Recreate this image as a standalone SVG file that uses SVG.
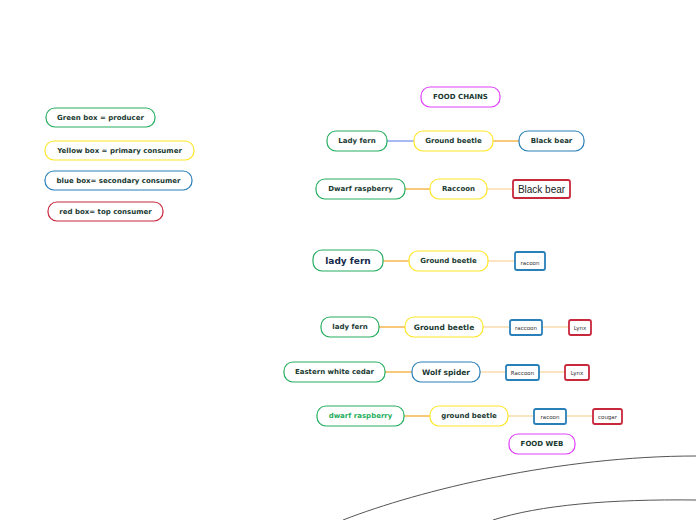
<svg xmlns="http://www.w3.org/2000/svg" width="696" height="520" viewBox="0 0 696 520">
<style>
.n{fill:#fff;stroke-width:1.2}
.g{stroke:#27ae60}.y{stroke:#ffe629}.b{stroke:#2980b9}.r{stroke:#c8283c}.m{stroke:#e040fb}
.sq{stroke-width:1.8}
.t{font-family:"DejaVu Sans",Verdana,sans-serif;font-weight:bold;font-size:7px;fill:#1a3a32;text-anchor:middle;dominant-baseline:central}
.s{font-family:"DejaVu Sans",Verdana,sans-serif;font-size:5.5px;fill:#333;text-anchor:middle;dominant-baseline:central}
.c{fill:none;stroke:#f5a623;stroke-width:1.2}
.cl{fill:none;stroke:#fbd29a;stroke-width:1.2}
</style>
<rect width="696" height="520" fill="#fff"/>
<g id="connectors">
<line x1="387" y1="141" x2="414" y2="141" style="fill:none;stroke:#6d8cf0;stroke-width:1.2"/>
<line class="c" x1="493" y1="141" x2="519" y2="141"/>
<line class="c" x1="405" y1="189" x2="430" y2="189"/>
<line class="cl" x1="487" y1="189" x2="513" y2="189"/>
<line class="c" x1="383" y1="261" x2="409" y2="261"/>
<line class="cl" x1="488" y1="261" x2="515" y2="261"/>
<line class="c" x1="379" y1="327" x2="405" y2="327"/>
<line class="cl" x1="483" y1="327" x2="510" y2="327"/>
<line class="cl" x1="542" y1="327" x2="569" y2="327"/>
<line class="c" x1="385" y1="372" x2="412" y2="372"/>
<line class="cl" x1="480" y1="372" x2="506" y2="372"/>
<line class="cl" x1="539" y1="372" x2="565" y2="372"/>
<line class="c" x1="404" y1="416" x2="430" y2="416"/>
<line class="cl" x1="508" y1="416" x2="534" y2="416"/>
<line class="cl" x1="566" y1="416" x2="593" y2="416"/>
<path d="M343,520 C420,490 560,456 696,456" fill="none" stroke="#555" stroke-width="1"/>
<path d="M493,520 C540,505 610,499 696,500" fill="none" stroke="#555" stroke-width="1"/>
</g>
<g id="legend-green"><rect class="n g" x="46" y="108" width="109" height="19" rx="9"/><text class="t" x="100.5" y="117.5">Green box = producer</text></g>
<g id="legend-yellow"><rect class="n y" x="45" y="141" width="149" height="19" rx="9"/><text class="t" x="119.5" y="150.5">Yellow box = primary consumer</text></g>
<g id="legend-blue"><rect class="n b" x="45" y="171" width="147" height="19" rx="9"/><text class="t" x="118.5" y="180.5">blue box= secondary consumer</text></g>
<g id="legend-red"><rect class="n r" x="48" y="202" width="115" height="19" rx="9"/><text class="t" x="105.5" y="211.5">red box= top consumer</text></g>
<g id="food-chains"><rect class="n m" x="421" y="87" width="79" height="20" rx="9"/><text class="t" x="460.5" y="97">FOOD CHAINS</text></g>
<g id="r1-fern"><rect class="n g" x="327" y="131" width="60" height="20" rx="9"/><text class="t" x="357" y="141">Lady fern</text></g>
<g id="r1-beetle"><rect class="n y" x="414" y="131" width="79" height="20" rx="9"/><text class="t" x="453.5" y="141">Ground beetle</text></g>
<g id="r1-bear"><rect class="n b" x="519" y="131" width="65" height="20" rx="9"/><text class="t" x="551.5" y="141">Black bear</text></g>
<g id="r2-rasp"><rect class="n g" x="316" y="179" width="89" height="20" rx="9"/><text class="t" x="360.5" y="189">Dwarf raspberry</text></g>
<g id="r2-raccoon"><rect class="n y" x="430" y="179" width="57" height="20" rx="9"/><text class="t" x="458.5" y="189">Raccoon</text></g>
<g id="r2-bear"><rect class="n r sq" x="513" y="180" width="57" height="18" rx="2"/><text x="541.5" y="189" style="font-family:'Liberation Sans',Arial,sans-serif;font-size:10px;fill:#222;text-anchor:middle;dominant-baseline:central">Black bear</text></g>
<g id="r3-fern"><rect class="n g" x="313" y="250" width="70" height="21" rx="9"/><text class="t" x="348" y="260.5" style="font-size:9px;fill:#13294b">lady fern</text></g>
<g id="r3-beetle"><rect class="n y" x="409" y="251" width="79" height="20" rx="9"/><text class="t" x="448.5" y="261">Ground beetle</text></g>
<g id="r3-racoon"><rect class="n b sq" x="515" y="252" width="30" height="18" rx="2"/><text class="s" x="530" y="262.5">racoon</text></g>
<g id="r4-fern"><rect class="n g" x="321" y="317" width="58" height="20" rx="9"/><text class="t" x="350" y="327">lady fern</text></g>
<g id="r4-beetle"><rect class="n y" x="405" y="317" width="78" height="20" rx="9"/><text class="t" x="444" y="327" style="font-size:7.5px">Ground beetle</text></g>
<g id="r4-raccoon"><rect class="n b sq" x="510" y="320" width="32" height="15" rx="2"/><text class="s" x="526" y="327.5">raccoon</text></g>
<g id="r4-lynx"><rect class="n r sq" x="569" y="320" width="22" height="15" rx="2"/><text class="s" x="580" y="327.5">Lynx</text></g>
<g id="r5-cedar"><rect class="n g" x="284" y="362" width="101" height="20" rx="9"/><text class="t" x="334.5" y="372">Eastern white cedar</text></g>
<g id="r5-spider"><rect class="n b" x="412" y="362" width="68" height="20" rx="9"/><text class="t" x="446" y="372" style="font-size:7.5px">Wolf spider</text></g>
<g id="r5-raccoon"><rect class="n b sq" x="506" y="365" width="33" height="15" rx="2"/><text class="s" x="522.5" y="372.5">Raccoon</text></g>
<g id="r5-lynx"><rect class="n r sq" x="565" y="365" width="24" height="15" rx="2"/><text class="s" x="577" y="372.5">Lynx</text></g>
<g id="r6-rasp"><rect class="n g" x="317" y="406" width="87" height="20" rx="9"/><text class="t" x="360.5" y="416" style="fill:#27ae60">dwarf raspberry</text></g>
<g id="r6-beetle"><rect class="n y" x="430" y="406" width="78" height="20" rx="9"/><text class="t" x="469" y="416">ground beetle</text></g>
<g id="r6-racoon"><rect class="n b sq" x="534" y="409" width="32" height="15" rx="2"/><text class="s" x="550" y="416.5">racoon</text></g>
<g id="r6-cougar"><rect class="n r sq" x="593" y="409" width="29" height="15" rx="2"/><text class="s" x="607.5" y="416.5">cougar</text></g>
<g id="food-web"><rect class="n m" x="509" y="434" width="66" height="20" rx="9"/><text class="t" x="542" y="444">FOOD WEB</text></g>
</svg>
